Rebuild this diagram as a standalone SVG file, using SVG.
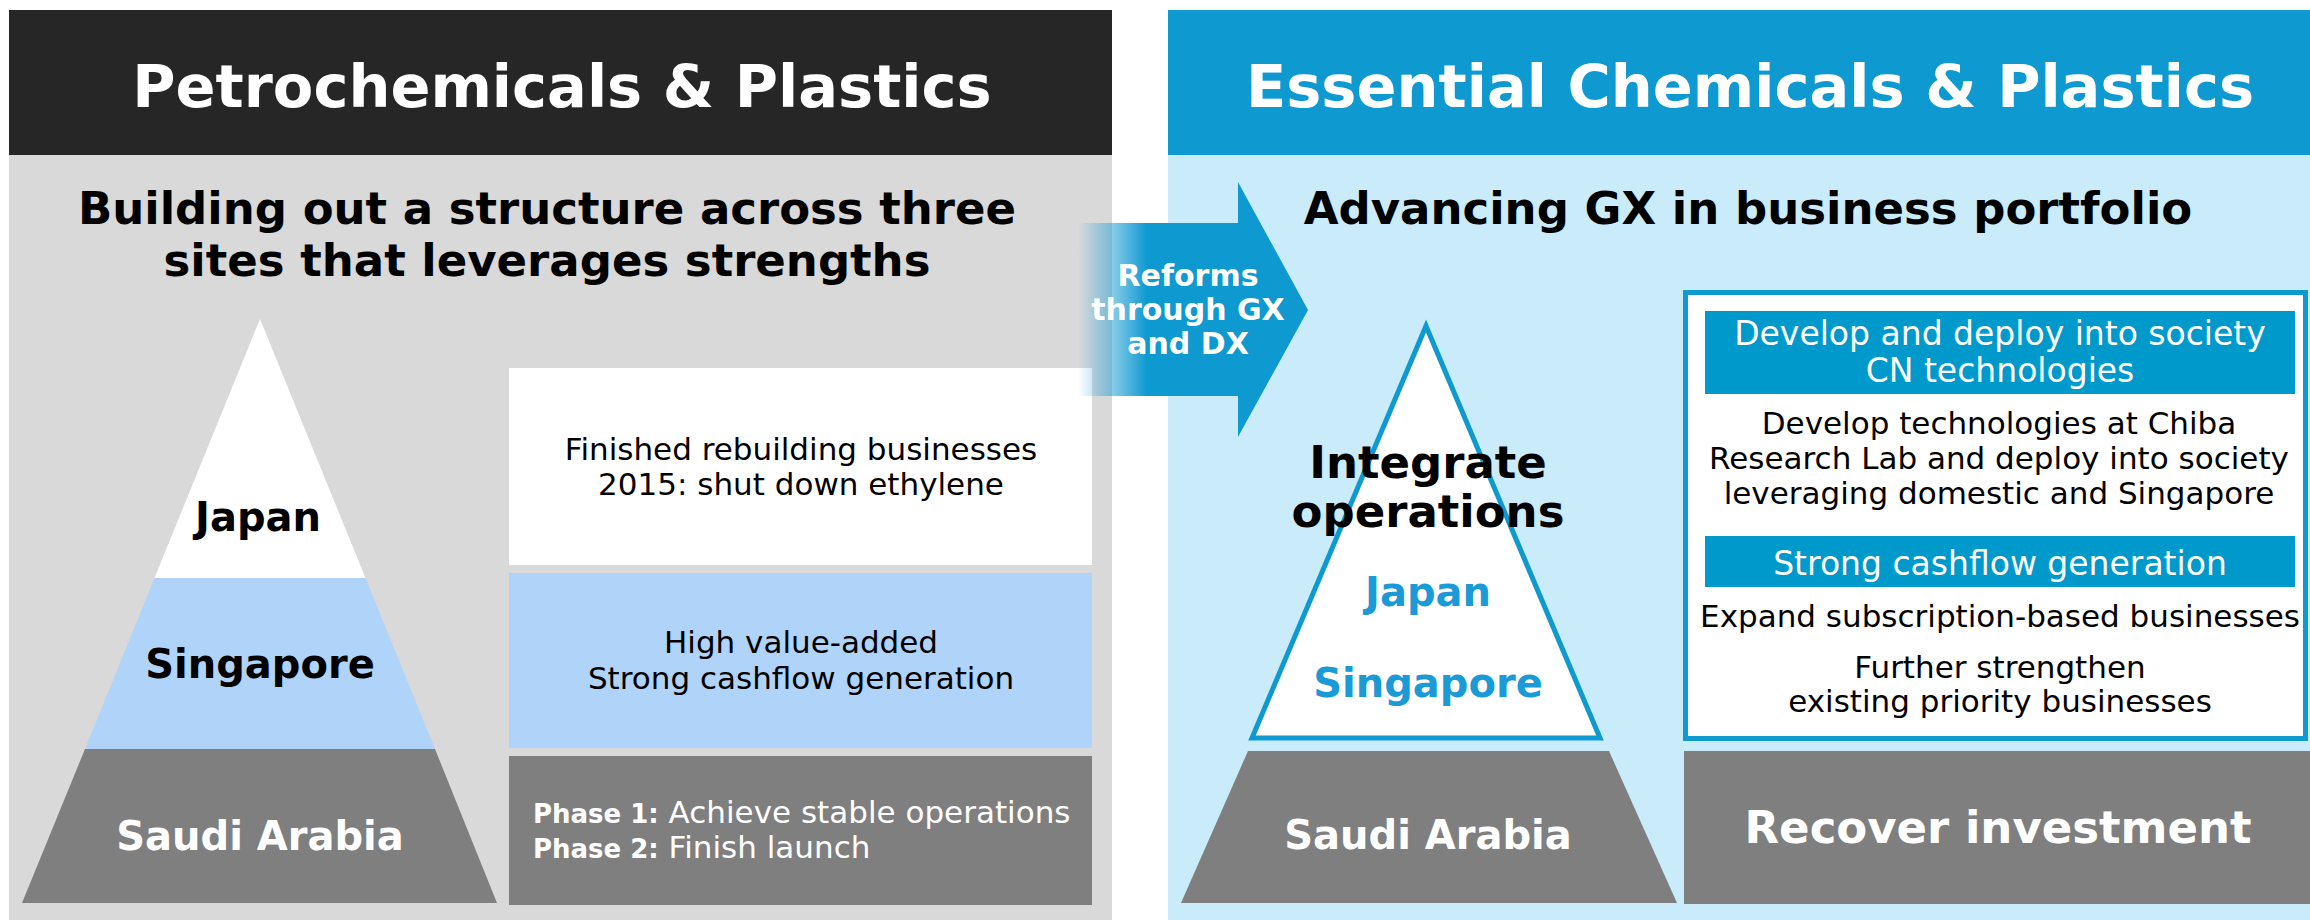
<svg xmlns="http://www.w3.org/2000/svg" width="2310" height="920" viewBox="0 0 2310 920">
<defs>
<linearGradient id="arrowGrad" gradientUnits="userSpaceOnUse" x1="1078" y1="0" x2="1308" y2="0">
<stop offset="0" stop-color="#0f99d1" stop-opacity="0"/>
<stop offset="0.3" stop-color="#0f99d1" stop-opacity="1"/>
<stop offset="1" stop-color="#0f99d1" stop-opacity="1"/>
</linearGradient>
<style>
text{font-family:"DejaVu Sans",Verdana,sans-serif}
.b{font-weight:bold}
.c{text-anchor:middle}
.w{fill:#ffffff}
.k{fill:#000000}
.title{font-size:59px;font-weight:bold;fill:#ffffff;text-anchor:middle}
.sub{font-size:45px;font-weight:bold;fill:#000000;text-anchor:middle}
.lbl{font-size:40px;font-weight:bold;text-anchor:middle}
.lt{font-size:31px}
.rt{font-size:31px}
.bar{fill:#0099cc}
.blue{fill:#1a9ad6}
</style>
</defs>
<rect x="0" y="0" width="2310" height="920" fill="#ffffff"/>

<g id="panel-left">
<rect x="9" y="10" width="1103" height="145" fill="#262626"/>
<rect x="9" y="155" width="1103" height="765" fill="#d9d9d9"/>
<text class="title" x="562" y="107">Petrochemicals &amp; Plastics</text>
<text class="sub" x="547" y="224">Building out a structure across three</text>
<text class="sub" x="547" y="276">sites that leverages strengths</text>
</g>

<g id="panel-right">
<rect x="1168" y="10" width="1142" height="145" fill="#0f99d1"/>
<rect x="1168" y="155" width="1142" height="765" fill="#c9ebfa"/>
<text class="title" x="1750" y="107">Essential Chemicals &amp; Plastics</text>
<text class="sub" x="1748" y="224">Advancing GX in business portfolio</text>
</g>

<g id="left-pyramid-japan">
<polygon points="260,319 365.5,578 154.5,578" fill="#ffffff"/>
<text class="lbl k" x="258" y="531">Japan</text>
</g>
<g id="left-pyramid-singapore">
<polygon points="154.5,578 365.5,578 435,749 85,749" fill="#b0d3fa"/>
<text class="lbl k" x="260" y="678">Singapore</text>
</g>
<g id="left-pyramid-saudi">
<polygon points="85,749 435,749 497,903 22,903" fill="#7f7f7f"/>
<text class="lbl w" x="260" y="850">Saudi Arabia</text>
</g>

<g id="box-japan">
<rect x="509" y="368" width="583" height="197" fill="#ffffff"/>
<text class="lt k c" x="801" y="460">Finished rebuilding businesses</text>
<text class="lt k c" x="801" y="495">2015: shut down ethylene</text>
</g>
<g id="box-singapore">
<rect x="509" y="573" width="583" height="175" fill="#b0d3fa"/>
<text class="lt k c" x="801" y="653">High value-added</text>
<text class="lt k c" x="801" y="689">Strong cashflow generation</text>
</g>
<g id="box-saudi">
<rect x="509" y="756" width="583" height="149" fill="#7f7f7f"/>
<text class="w" x="533" y="823"><tspan class="b" font-size="26">Phase 1:</tspan><tspan font-size="31"> Achieve stable operations</tspan></text>
<text class="w" x="533" y="858"><tspan class="b" font-size="26">Phase 2:</tspan><tspan font-size="31"> Finish launch</tspan></text>
</g>

<g id="right-pyramid">
<polygon points="1426,326 1600,738 1252,738" fill="#ffffff" stroke="#0f99d1" stroke-width="5"/>
<text class="b k c" font-size="45" x="1428" y="478">Integrate</text>
<text class="b k c" font-size="45" x="1428" y="527">operations</text>
<text class="lbl blue" x="1428" y="606">Japan</text>
<text class="lbl blue" x="1428" y="697">Singapore</text>
</g>
<g id="right-pyramid-saudi">
<polygon points="1248,751 1609,751 1677,903 1181,903" fill="#7f7f7f"/>
<text class="lbl w" x="1428" y="849">Saudi Arabia</text>
</g>

<g id="box-gx">
<rect x="1685.5" y="292.5" width="620" height="446" fill="#ffffff" stroke="#0f99d1" stroke-width="5"/>
<rect class="bar" x="1705" y="311" width="590" height="83"/>
<text class="w c" font-size="33" x="2000" y="345">Develop and deploy into society</text>
<text class="w c" font-size="33" x="2000" y="382">CN technologies</text>
<text class="rt k c" x="1999" y="434">Develop technologies at Chiba</text>
<text class="rt k c" x="1999" y="469">Research Lab and deploy into society</text>
<text class="rt k c" x="1999" y="504">leveraging domestic and Singapore</text>
<rect class="bar" x="1705" y="536" width="590" height="51"/>
<text class="w c" font-size="33" x="2000" y="575">Strong cashflow generation</text>
<text class="rt k c" x="2000" y="627">Expand subscription-based businesses</text>
<text class="rt k c" x="2000" y="678">Further strengthen</text>
<text class="rt k c" x="2000" y="712">existing priority businesses</text>
</g>

<g id="box-recover">
<rect x="1684" y="751" width="626" height="153" fill="#7f7f7f"/>
<text class="b w c" font-size="45" x="1998" y="843">Recover investment</text>
</g>

<g id="connectors">
<g id="arrow-reforms">
<polygon points="1078,223 1238,223 1238,182 1308,310 1238,437 1238,396 1078,396" fill="url(#arrowGrad)"/>
<text class="b w c" font-size="30" x="1188" y="286">Reforms</text>
<text class="b w c" font-size="30" x="1188" y="320">through GX</text>
<text class="b w c" font-size="30" x="1188" y="354">and DX</text>
</g>
</g>
</svg>
